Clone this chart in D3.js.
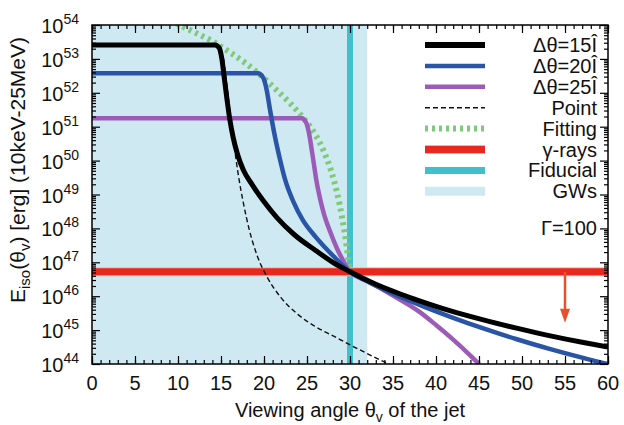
<!DOCTYPE html>
<html><head><meta charset="utf-8">
<script src="https://cdn.jsdelivr.net/npm/d3@7"></script>
<style>
html,body{margin:0;padding:0;background:#fff;}
text{font-family:"Liberation Sans",Arial,Helvetica,sans-serif;fill:#111;}
</style></head>
<body><svg id="c" width="624" height="425"></svg>
<script>
// ---- data (viewing angle in degrees, log10 of E_iso in erg) ----
const xTickLabels = ["0","5","10","15","20","25","30","35","40","45","50","55","60"];
const yTickExponents = [44,45,46,47,48,49,50,51,52,53,54];

const angle15 = [0,14.3,14.8,15.1,15.4,15.7,16.0,16.4,16.9,17.6,18.6,19.9,21.5,23.5,26,28,30,33,36,38,41.5,45.5,49.5,53.3,57,60];
const logE15  = [53.41,53.41,53.32,53.0,52.4,51.8,51.25,50.7,50.2,49.72,49.3,48.82,48.32,47.82,47.35,47.0,46.72,46.35,46.05,45.87,45.58,45.3,45.05,44.83,44.64,44.5];

const angle20 = [0,19.3,19.9,20.3,20.7,21.2,21.8,22.5,23.4,24.5,26,28,30,32,34,36,38.5,41.6,45.5,49.4,53.3,57.1,58.8,60];
const logE20  = [52.58,52.58,52.45,52.1,51.5,50.8,50.1,49.4,48.8,48.25,47.75,47.2,46.72,46.44,46.19,45.96,45.7,45.4,45.05,44.73,44.44,44.18,44.07,44.0];

const angle25 = [0,24.4,24.9,25.2,25.5,25.8,26.1,26.5,27,27.7,28.5,29.2,30,32,34,36,38,40,42,44,45];
const logE25  = [51.25,51.25,51.12,50.85,50.4,49.9,49.4,48.9,48.4,47.9,47.4,47.05,46.72,46.45,46.17,45.87,45.55,45.15,44.72,44.25,44.0];

const anglePoint = [15.3,15.7,16.1,16.5,17.0,17.6,18.3,19.2,20.4,22,24,26,28.1,30.5,32.7,34.5];
const logEPoint  = [53.0,52.2,51.3,50.5,49.6,48.75,47.95,47.2,46.55,45.95,45.45,45.1,44.82,44.5,44.22,44.0];

const angleFit = [9.8,11.8,13.7,16,18,19.9,21.5,23,24.6,26,27,27.8,28.5,29.1,29.6,30.0];
const logEFit  = [54.05,53.8,53.56,53.2,52.85,52.45,52.07,51.7,51.25,50.75,50.25,49.7,49.05,48.3,47.5,46.72];

const gammaLimitLogE = 46.72;   // gamma-ray upper limit
const arrowAngle = 55;
const arrowTipLogE = 45.22;
const fiducialAngle = 30;
const gwRange = [0, 32];

const legendLabels = ["Δθ=15Î","Δθ=20Î","Δθ=25Î","Point","Fitting","γ-rays","Fiducial","GWs"];
const lorentzLabel = "Γ=100";

// ---- layout ----
const svg = d3.select("#c");
const L=92, R=608, T=25, B=364;
const x = d3.scaleLinear().domain([0,60]).range([L,R]);
const y = d3.scaleLog().domain([1e44,1e54]).range([B,T]);
const E = e => Math.pow(10,e);

svg.append("defs").append("clipPath").attr("id","clip")
  .append("rect").attr("x",L).attr("y",T).attr("width",R-L).attr("height",B-T);
const plot = svg.append("g").attr("clip-path","url(#clip)");

const cBlack="#000", cBlue="#2a54a6", cPurple="#9c5bb6", cGreen="#7fca7a",
      cRed="#e8281e", cCyan="#41bfca", cLight="#cfe9f3", cArrow="#e8502a";

// GWs band
plot.append("rect").attr("x",x(gwRange[0])).attr("y",T)
  .attr("width",x(gwRange[1])-x(gwRange[0])).attr("height",B-T).attr("fill",cLight);
// Fiducial
plot.append("line").attr("x1",x(fiducialAngle)).attr("x2",x(fiducialAngle))
  .attr("y1",T).attr("y2",B).attr("stroke",cCyan).attr("stroke-width",6);
// gamma-ray limit
plot.append("line").attr("x1",L).attr("x2",R)
  .attr("y1",y(E(gammaLimitLogE))).attr("y2",y(E(gammaLimitLogE)))
  .attr("stroke","#f6b59c").attr("stroke-width",9);
plot.append("line").attr("x1",L).attr("x2",R)
  .attr("y1",y(E(gammaLimitLogE))).attr("y2",y(E(gammaLimitLogE)))
  .attr("stroke",cRed).attr("stroke-width",7);
// arrow
const ax = x(arrowAngle), ay0 = y(E(gammaLimitLogE)), ay1 = y(E(arrowTipLogE));
plot.append("line").attr("x1",ax).attr("x2",ax).attr("y1",ay0).attr("y2",ay1-12)
  .attr("stroke",cArrow).attr("stroke-width",2.5);
plot.append("path").attr("d",`M${ax-5},${ay1-14}L${ax+5},${ay1-14}L${ax},${ay1}Z`).attr("fill",cArrow);

const line = d3.line().x(d=>x(d[0])).y(d=>y(E(d[1]))).curve(d3.curveMonotoneX);
const zip = (a,b)=>a.map((v,i)=>[v,b[i]]);

plot.append("path").attr("d",line(zip(angleFit,logEFit))).attr("fill","none")
  .attr("stroke",cGreen).attr("stroke-width",6).attr("stroke-dasharray","3,4");
plot.append("path").attr("d",line(zip(anglePoint,logEPoint))).attr("fill","none")
  .attr("stroke","#111").attr("stroke-width",1.4).attr("stroke-dasharray","5,3");
plot.append("path").attr("d",line(zip(angle25,logE25))).attr("fill","none")
  .attr("stroke",cPurple).attr("stroke-width",4.5);
plot.append("path").attr("d",line(zip(angle20,logE20))).attr("fill","none")
  .attr("stroke",cBlue).attr("stroke-width",4.5);
plot.append("path").attr("d",line(zip(angle15,logE15))).attr("fill","none")
  .attr("stroke",cBlack).attr("stroke-width",5);

// ---- axes (ticks inward) ----
const xMinor = d3.range(0,61,1), xMajor = d3.range(0,61,5);
const yMajor = yTickExponents.map(E);
const yMinor = [];
yTickExponents.slice(0,-1).forEach(e=>{ for(let k=2;k<=9;k++) yMinor.push(k*E(e)); });

function ax_(g, axis){ g.call(axis); g.select(".domain").remove(); g.selectAll("line").attr("stroke","#000").attr("stroke-width",1.2); }
ax_(svg.append("g").attr("transform",`translate(0,${B})`), d3.axisBottom(x).tickValues(xMinor).tickSize(-4).tickFormat(""));
ax_(svg.append("g").attr("transform",`translate(0,${B})`), d3.axisBottom(x).tickValues(xMajor).tickSize(-8).tickFormat(""));
ax_(svg.append("g").attr("transform",`translate(0,${T})`), d3.axisTop(x).tickValues(xMinor).tickSize(-4).tickFormat(""));
ax_(svg.append("g").attr("transform",`translate(0,${T})`), d3.axisTop(x).tickValues(xMajor).tickSize(-8).tickFormat(""));
ax_(svg.append("g").attr("transform",`translate(${L},0)`), d3.axisLeft(y).tickValues(yMinor).tickSize(-4).tickFormat(""));
ax_(svg.append("g").attr("transform",`translate(${L},0)`), d3.axisLeft(y).tickValues(yMajor).tickSize(-8).tickFormat(""));
ax_(svg.append("g").attr("transform",`translate(${R},0)`), d3.axisRight(y).tickValues(yMinor).tickSize(-4).tickFormat(""));
ax_(svg.append("g").attr("transform",`translate(${R},0)`), d3.axisRight(y).tickValues(yMajor).tickSize(-8).tickFormat(""));

svg.append("rect").attr("x",L).attr("y",T).attr("width",R-L).attr("height",B-T)
  .attr("fill","none").attr("stroke","#000").attr("stroke-width",1.5);

// tick labels
xTickLabels.forEach(s=>{
  svg.append("text").attr("x",x(+s)).attr("y",390).attr("text-anchor","middle")
    .attr("font-size",20).text(s);
});
yTickExponents.forEach(e=>{
  const t = svg.append("text").attr("x",79).attr("y",y(E(e))+8).attr("text-anchor","end").attr("font-size",20);
  t.append("tspan").text("10");
  t.append("tspan").attr("dy",-9).attr("font-size",14).text(e);
});

// axis titles
const xt = svg.append("text").attr("x",(L+R)/2).attr("y",417).attr("text-anchor","middle").attr("font-size",20);
xt.append("tspan").text("Viewing angle θ");
xt.append("tspan").attr("dy",5).attr("font-size",14).text("v");
xt.append("tspan").attr("dy",-5).text(" of the jet");

const yt = svg.append("text").attr("transform","translate(25,170) rotate(-90)").attr("text-anchor","middle").attr("font-size",21);
yt.append("tspan").text("E");
yt.append("tspan").attr("dy",5).attr("font-size",15).text("iso");
yt.append("tspan").attr("dy",-5).text("(θ");
yt.append("tspan").attr("dy",5).attr("font-size",15).text("v");
yt.append("tspan").attr("dy",-5).text(") [erg] (10keV-25MeV)");

// legend
const legStyles = [
  {c:cBlack,w:6},{c:cBlue,w:4.5},{c:cPurple,w:4.5},
  {c:"#111",w:1.5,d:"5,3"},{c:cGreen,w:6,d:"3,4"},
  {c:cRed,w:7,edge:"#f6b59c"},{c:cCyan,w:7},{c:cLight,w:9}
];
legendLabels.forEach((lab,i)=>{
  const yy = 45 + i*20.9;
  const st = legStyles[i];
  if(st.edge) svg.append("line").attr("x1",425).attr("x2",485).attr("y1",yy).attr("y2",yy).attr("stroke",st.edge).attr("stroke-width",st.w+2);
  svg.append("line").attr("x1",425).attr("x2",485).attr("y1",yy).attr("y2",yy)
    .attr("stroke",st.c).attr("stroke-width",st.w).attr("stroke-dasharray",st.d||null);
  svg.append("text").attr("x",597).attr("y",yy+7).attr("text-anchor","end").attr("font-size",20).text(lab);
});
svg.append("text").attr("x",597).attr("y",235).attr("text-anchor","end").attr("font-size",20).text(lorentzLabel);
</script></body></html>
